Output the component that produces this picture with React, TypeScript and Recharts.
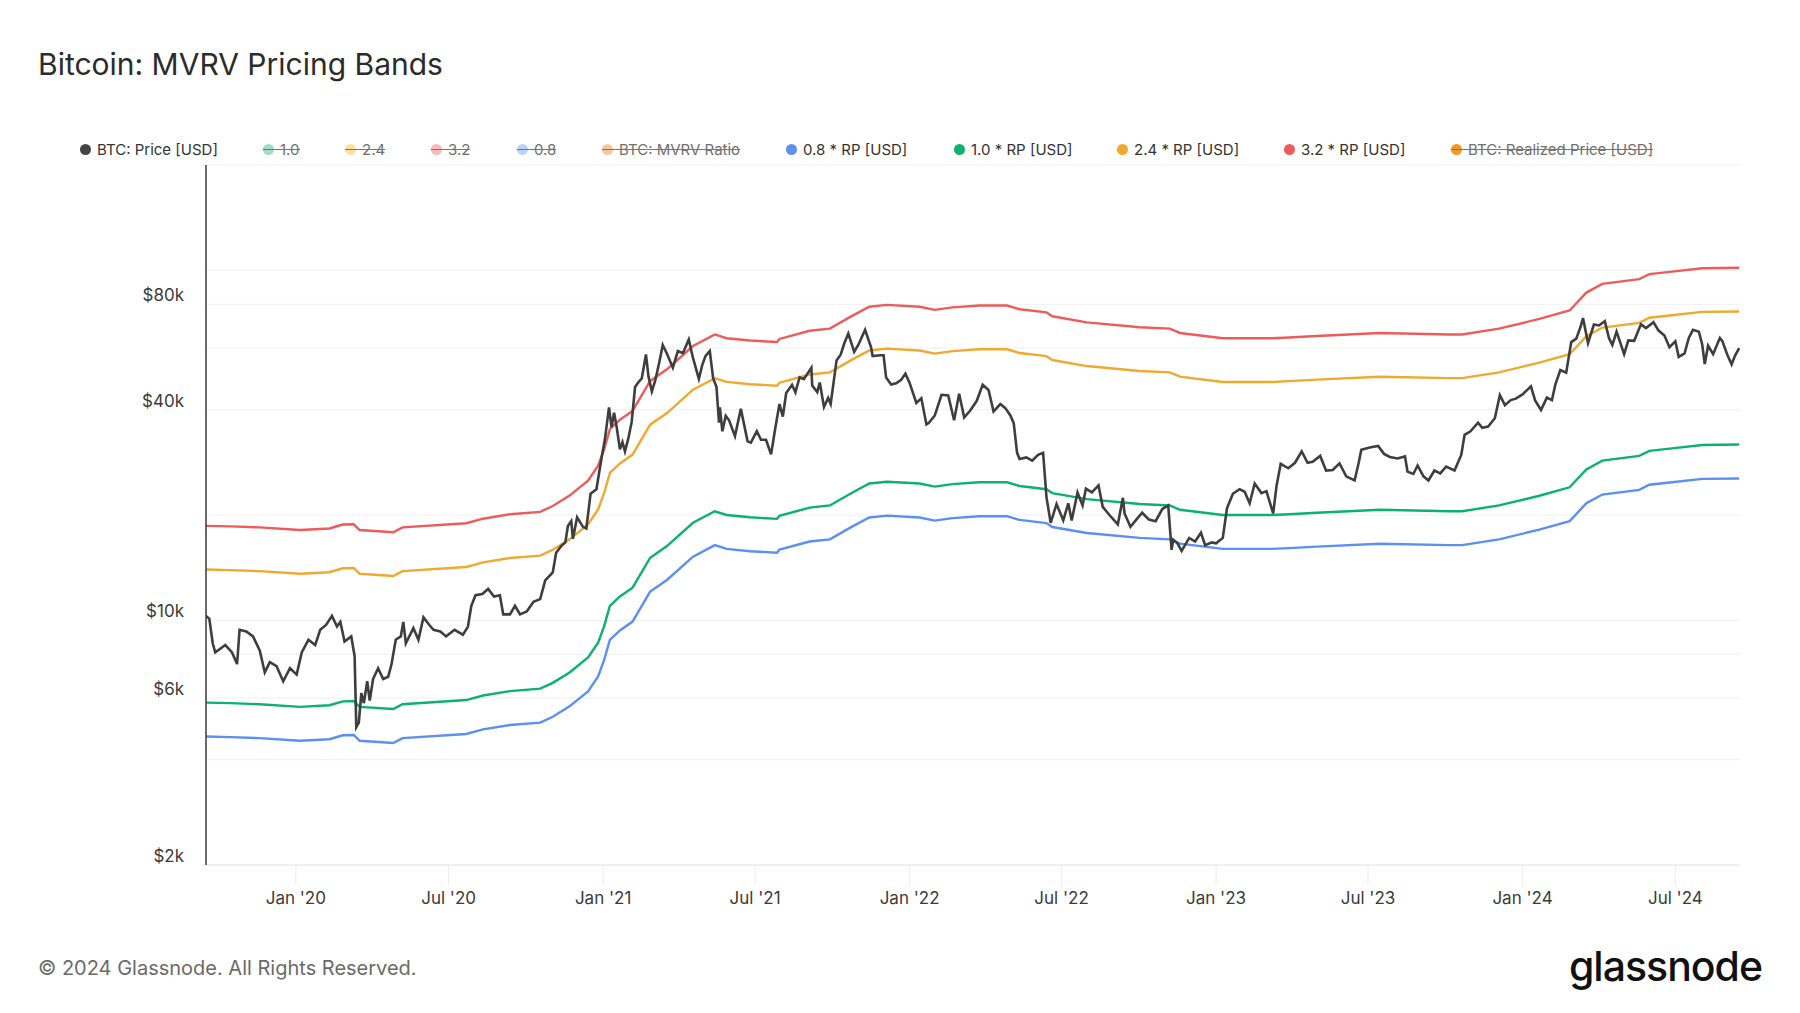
import React from 'react';
import { LineChart, Line, XAxis, YAxis, CartesianGrid } from 'recharts';

// ---------- DATA ----------
const priceDates = [
  '2019-09-16','2019-09-20','2019-09-24','2019-09-27','2019-10-03','2019-10-09','2019-10-17','2019-10-23','2019-10-26','2019-11-03',
  '2019-11-11','2019-11-19','2019-11-25','2019-12-01','2019-12-09','2019-12-17','2019-12-25','2020-01-02','2020-01-08','2020-01-16',
  '2020-01-24','2020-01-30','2020-02-06','2020-02-13','2020-02-19','2020-02-23','2020-02-28','2020-03-07','2020-03-11','2020-03-13',
  '2020-03-16','2020-03-19','2020-03-22','2020-03-26','2020-03-29','2020-04-02','2020-04-08','2020-04-14','2020-04-20','2020-04-24',
  '2020-04-29','2020-05-05','2020-05-08','2020-05-11','2020-05-20','2020-05-26','2020-06-01','2020-06-08','2020-06-13','2020-06-21',
  '2020-06-28','2020-07-08','2020-07-18','2020-07-24','2020-07-28','2020-08-02','2020-08-10','2020-08-17','2020-08-24','2020-08-31',
  '2020-09-04','2020-09-12','2020-09-18','2020-09-24','2020-10-02','2020-10-10','2020-10-18','2020-10-24','2020-11-02','2020-11-06',
  '2020-11-12','2020-11-17','2020-11-20','2020-11-24','2020-11-26','2020-12-01','2020-12-08','2020-12-12','2020-12-17','2020-12-24',
  '2020-12-30','2021-01-03','2021-01-08','2021-01-11','2021-01-14','2021-01-17','2021-01-21','2021-01-24','2021-01-27','2021-01-31',
  '2021-02-04','2021-02-08','2021-02-12','2021-02-16','2021-02-21','2021-02-24','2021-02-28','2021-03-04','2021-03-09','2021-03-13',
  '2021-03-18','2021-03-25','2021-03-31','2021-04-06','2021-04-13','2021-04-18','2021-04-25','2021-04-29','2021-05-03','2021-05-08',
  '2021-05-12','2021-05-16','2021-05-19','2021-05-20','2021-05-23','2021-05-27','2021-05-31','2021-06-07','2021-06-14','2021-06-22',
  '2021-06-26','2021-07-03','2021-07-08','2021-07-14','2021-07-20','2021-07-25','2021-07-30','2021-08-03','2021-08-07','2021-08-14',
  '2021-08-18','2021-08-23','2021-08-28','2021-09-06','2021-09-07','2021-09-13','2021-09-16','2021-09-21','2021-09-26','2021-09-29',
  '2021-10-06','2021-10-11','2021-10-15','2021-10-20','2021-10-27','2021-11-01','2021-11-09','2021-11-16','2021-11-18','2021-11-24',
  '2021-11-28','2021-12-01','2021-12-04','2021-12-10','2021-12-16','2021-12-22','2021-12-27','2022-01-01','2022-01-09','2022-01-15',
  '2022-01-21','2022-01-24','2022-01-31','2022-02-08','2022-02-16','2022-02-23','2022-03-01','2022-03-07','2022-03-14','2022-03-22',
  '2022-03-29','2022-04-05','2022-04-11','2022-04-19','2022-04-25','2022-05-01','2022-05-05','2022-05-09','2022-05-12','2022-05-20',
  '2022-05-27','2022-06-03','2022-06-09','2022-06-13','2022-06-18','2022-06-25','2022-07-03','2022-07-09','2022-07-13','2022-07-20',
  '2022-07-26','2022-07-30','2022-08-06','2022-08-14','2022-08-19','2022-08-27','2022-09-06','2022-09-12','2022-09-14','2022-09-21',
  '2022-09-28','2022-10-05','2022-10-13','2022-10-21','2022-10-29','2022-11-05','2022-11-09','2022-11-11','2022-11-16','2022-11-21',
  '2022-11-30','2022-12-07','2022-12-14','2022-12-19','2022-12-27','2023-01-01','2023-01-09','2023-01-14','2023-01-21','2023-01-29',
  '2023-02-04','2023-02-10','2023-02-16','2023-02-24','2023-03-02','2023-03-10','2023-03-14','2023-03-19','2023-03-28','2023-04-05',
  '2023-04-13','2023-04-20','2023-04-26','2023-05-05','2023-05-12','2023-05-20','2023-05-28','2023-06-05','2023-06-15','2023-06-20',
  '2023-06-23','2023-07-03','2023-07-13','2023-07-20','2023-07-27','2023-08-05','2023-08-14','2023-08-17','2023-08-24','2023-08-29',
  '2023-09-05','2023-09-11','2023-09-18','2023-09-25','2023-10-02','2023-10-12','2023-10-20','2023-10-24','2023-10-31','2023-11-09',
  '2023-11-14','2023-11-21','2023-11-29','2023-12-05','2023-12-11','2023-12-18','2023-12-24','2024-01-01','2024-01-11','2024-01-16',
  '2024-01-23','2024-01-30','2024-02-05','2024-02-09','2024-02-15','2024-02-22','2024-02-28','2024-03-05','2024-03-10','2024-03-13',
  '2024-03-19','2024-03-26','2024-04-01','2024-04-08','2024-04-13','2024-04-17','2024-04-22','2024-05-01','2024-05-06','2024-05-13',
  '2024-05-21','2024-05-27','2024-06-05','2024-06-11','2024-06-18','2024-06-24','2024-07-01','2024-07-05','2024-07-12','2024-07-17',
  '2024-07-22','2024-07-29','2024-08-02','2024-08-05','2024-08-09','2024-08-15','2024-08-23','2024-08-26','2024-09-01','2024-09-06',
  '2024-09-10','2024-09-15',
];
const priceValues = [
  10300,10100,8600,8100,8300,8500,8100,7500,9400,9300,
  9000,8200,7100,7600,7400,6700,7300,7000,8100,8800,
  8500,9400,9700,10300,9600,9900,8700,9000,7900,4950,
  5100,6200,5800,6700,5900,6800,7300,6800,6900,7500,
  8800,9000,9900,8600,9500,8800,10200,9700,9400,9300,
  9000,9400,9100,9600,11000,11800,11900,12300,11700,11800,
  10400,10400,11000,10400,10600,11300,11500,13000,13700,15600,
  16300,16700,18600,19200,17100,19700,18500,18300,23000,23700,
  29000,32800,40600,35600,39200,35800,30800,32300,30400,33100,
  36900,46400,47900,49100,57500,49700,45100,48400,54800,61200,
  57800,52700,58800,58000,63500,56200,49000,53600,57000,58800,
  49200,46400,36700,40600,34700,38400,37300,33600,40200,32500,
  32200,34700,32800,32800,29800,35400,41500,38200,44600,47100,
  44800,49500,48900,52700,46900,44900,47800,40700,43200,41500,
  55300,57500,61700,66000,58500,61300,67600,60400,56900,57100,
  57200,57200,49400,47200,47600,48700,50700,47700,41800,43100,
  36300,36700,38500,44100,43900,37300,44400,38000,39700,42400,
  47100,45500,39500,41500,40400,38500,36600,30100,28900,29200,
  28600,29700,30100,22500,19000,21500,19300,21600,19300,23200,
  21300,23800,23200,24300,21100,20000,18800,22400,20200,18500,
  19400,20300,19400,19200,20800,21300,15900,17000,16600,15800,
  17200,16800,17800,16400,16700,16600,17200,20900,23000,23700,
  23300,21600,24600,23100,23400,20200,24200,28000,27200,28200,
  30400,28200,28400,29500,26800,26900,28100,25800,25100,28300,
  30700,31200,31500,29900,29300,29000,29400,26600,26200,27700,
  25800,25100,26800,26300,27500,26800,29700,33900,34700,36700,
  35500,35800,37800,44000,41200,42600,43000,44200,46600,42500,
  39900,43300,42600,47100,51900,51000,62400,63800,68900,73100,
  62000,70000,69600,71600,64000,61200,66800,57600,63100,62900,
  70100,68400,71100,67300,65100,60300,62700,56600,57900,64100,
  67600,66800,61400,54000,60900,57600,64100,62800,57300,53900,
  57000,60000,
];

// Realized price (RP) read from the 1.0 * RP band
const rpDates = [
  '2019-09-16','2019-10-15','2019-11-19','2020-01-06','2020-02-10','2020-02-26','2020-03-10','2020-03-17','2020-04-26','2020-05-07',
  '2020-07-22','2020-08-11','2020-09-12','2020-10-18','2020-11-02','2020-11-22','2020-12-14','2020-12-26','2021-01-02','2021-01-09',
  '2021-01-21','2021-02-05','2021-02-26','2021-03-18','2021-04-18','2021-05-14','2021-05-28','2021-06-25','2021-07-27','2021-07-30',
  '2021-09-04','2021-09-28','2021-10-25','2021-11-14','2021-12-05','2022-01-13','2022-01-31','2022-02-21','2022-03-25','2022-04-27',
  '2022-05-12','2022-06-13','2022-06-20','2022-07-31','2022-10-02','2022-11-07','2022-11-19','2023-01-09','2023-03-09','2023-03-29',
  '2023-05-01','2023-07-15','2023-10-06','2023-10-21','2023-12-04','2024-01-21','2024-02-26','2024-03-17','2024-04-05','2024-05-19',
  '2024-05-31','2024-06-27','2024-08-02','2024-09-15',
];
const rpValues = [
  5820,5800,5760,5660,5720,5870,5880,5660,5580,5760,
  5920,6100,6280,6380,6630,7100,7830,8640,9600,11000,
  11700,12400,15100,16300,19000,20500,20000,19700,19500,19900,
  21000,21300,23200,24600,24900,24600,24100,24500,24800,24800,
  24200,23700,23100,22200,21500,21300,20700,20000,20000,20100,
  20300,20700,20500,20500,21300,22700,24000,27000,28600,29500,
  30500,31000,31700,31800,
];

const bandMultipliers = [0.8, 1.0, 2.4, 3.2];
const bandColors = ['#5b8ff2', '#0bb26d', '#f0a92e', '#ee5b5b'];
const priceColor = '#3e3e3e';

const yGridTicks = [2000, 4000, 6000, 8000, 10000, 20000, 40000, 60000, 80000, 100000, 200000];
const yLabeledTicks = [2000, 6000, 10000, 40000, 80000];
const xTickDates = ['2020-01-01','2020-07-01','2021-01-01','2021-07-01','2022-01-01','2022-07-01','2023-01-01','2023-07-01','2024-01-01','2024-07-01'];
const xDomainDates = ['2019-09-16', '2024-09-16'];
const monthNames = ['Jan','Feb','Mar','Apr','May','Jun','Jul','Aug','Sep','Oct','Nov','Dec'];

const legendItems = [
  { name: 'BTC: Price [USD]', color: '#444444', off: false },
  { name: '1.0', color: '#a3dcc3', off: true },
  { name: '2.4', color: '#fbe2a2', off: true },
  { name: '3.2', color: '#f7b9b9', off: true },
  { name: '0.8', color: '#bdd1f7', off: true },
  { name: 'BTC: MVRV Ratio', color: '#f5c79b', off: true },
  { name: '0.8 * RP [USD]', color: '#5b8ff2', off: false },
  { name: '1.0 * RP [USD]', color: '#0bb26d', off: false },
  { name: '2.4 * RP [USD]', color: '#f0a92e', off: false },
  { name: '3.2 * RP [USD]', color: '#ee5b5b', off: false },
  { name: 'BTC: Realized Price [USD]', color: '#ef9a2a', off: true },
];
// layout: dot centre x of each legend item
const legendDotX = [86, 269, 351, 437, 523, 608, 792, 960, 1123, 1290, 1457];

// ---------- HELPERS ----------
const ts = (d: string) => Date.parse(d + 'T00:00:00Z');
const priceData = priceDates.map((d, i) => ({ t: ts(d), v: priceValues[i] }));
const bandData = bandMultipliers.map((m) => rpDates.map((d, i) => ({ t: ts(d), v: rpValues[i] * m })));
const xTicks = xTickDates.map(ts);
const xDomain = xDomainDates.map(ts);

const FONT = 'Inter, "Noto Sans", sans-serif';

const fmtX = (v: number) => {
  const d = new Date(v);
  return `${monthNames[d.getUTCMonth()]} '${String(d.getUTCFullYear()).slice(2)}`;
};
const fmtY = (v: number) => `$${v / 1000}k`;

const XTick = (props: any) => {
  const { x, y, payload } = props;
  return (
    <text x={x} y={y + 11} textAnchor="middle" dominantBaseline="central" fontSize={17} fill="#3a3a3a" fontFamily={FONT}>
      {fmtX(payload.value)}
    </text>
  );
};

const YTick = (props: any) => {
  const { y, payload } = props;
  if (!yLabeledTicks.includes(payload.value)) return <g />;
  return (
    <text x={184} y={y - 9} textAnchor="end" dominantBaseline="central" fontSize={17} fill="#3a3a3a" fontFamily={FONT}>
      {fmtY(payload.value)}
    </text>
  );
};

export default function App() {
  return (
    <div style={{ position: 'absolute', left: 0, top: 0, width: 1800, height: 1013, background: '#fff', fontFamily: FONT, overflow: 'hidden' }}>
      <div style={{ position: 'absolute', left: 38, top: 43, fontSize: 30, color: '#2b2b2b', fontWeight: 400, lineHeight: '42px', whiteSpace: 'nowrap' }}>
        Bitcoin: MVRV Pricing Bands
      </div>

      {legendItems.map((it, i) => (
        <div key={it.name} style={{ position: 'absolute', left: legendDotX[i] - 6, top: 139, height: 20, display: 'flex', alignItems: 'center', whiteSpace: 'nowrap' }}>
          <div style={{ position: 'relative', display: 'flex', alignItems: 'center' }}>
            <span style={{ width: 11, height: 11, borderRadius: '50%', background: it.color, display: 'inline-block', marginRight: 6 }} />
            <span style={{ fontSize: 15, color: it.off ? '#707070' : '#333333' }}>{it.name}</span>
            {it.off && (
              <span style={{ position: 'absolute', left: 0, right: 0, top: '50%', height: 1, background: '#777' }} />
            )}
          </div>
        </div>
      ))}

      <div style={{ position: 'absolute', left: 0, top: 0 }}>
        <LineChart width={1800} height={1013} margin={{ top: 165, right: 60, bottom: 108, left: 146 }} style={{ fontFamily: FONT }}>
          <CartesianGrid vertical={false} stroke="#efefef" strokeWidth={1} />
          <XAxis
            type="number"
            dataKey="t"
            domain={xDomain}
            ticks={xTicks}
            allowDataOverflow
            height={40}
            tickSize={20}
            tickMargin={2}
            tick={<XTick />}
            tickLine={{ stroke: '#ececec' }}
            axisLine={{ stroke: '#e8e8e8' }}
          />
          <YAxis
            type="number"
            scale="log"
            domain={[2000, 200000]}
            ticks={yGridTicks}
            allowDataOverflow
            width={60}
            tick={<YTick />}
            tickLine={false}
            axisLine={{ stroke: '#3a3a3a', strokeWidth: 1.5 }}
            interval={0}
          />
          {bandData.map((data, i) => (
            <Line
              key={i}
              data={data}
              dataKey="v"
              type="linear"
              stroke={bandColors[i]}
              strokeWidth={2.4}
              dot={false}
              isAnimationActive={false}
            />
          ))}
          <Line data={priceData} dataKey="v" type="linear" stroke={priceColor} strokeWidth={2.6} dot={false} isAnimationActive={false} />
        </LineChart>
      </div>

      <div style={{ position: 'absolute', left: 38, top: 954, fontSize: 20, color: '#6a6a6a', lineHeight: '28px', whiteSpace: 'nowrap' }}>
        © 2024 Glassnode. All Rights Reserved.
      </div>
      <div style={{ position: 'absolute', right: 38, top: 939, fontSize: 41, color: '#111', fontWeight: 500, letterSpacing: -1, lineHeight: '54px', whiteSpace: 'nowrap' }}>
        glassnode
      </div>
    </div>
  );
}
